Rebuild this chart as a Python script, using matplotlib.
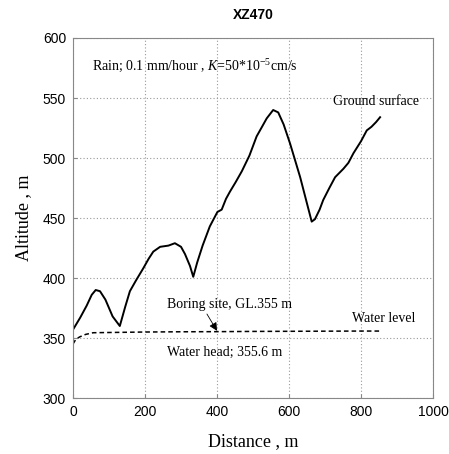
import matplotlib
matplotlib.use("Agg")
import matplotlib.pyplot as plt

# ground surface profile (distance m, altitude m)
dist = [0, 20, 38, 52, 63, 75, 90, 110, 130, 145, 158, 175, 195, 210, 223, 242, 265, 283,
        300, 311, 325, 334, 345, 360, 380, 401, 413, 425, 436, 452, 469, 490, 510, 525,
        538, 556, 570, 585, 603, 631, 650, 663, 672, 685, 695, 712, 728, 751, 765, 779,
        800, 816, 829, 842, 853]
ground = [357, 367, 377, 386, 390, 389, 382, 368, 360, 376, 389, 398, 408, 416, 422, 426, 427, 429,
          426, 420, 410, 401, 413, 427, 443, 455, 457, 466, 472, 480, 489, 502, 518, 526,
          533, 540, 538, 528, 512, 484, 462, 447, 449, 457, 465, 475, 484, 491, 496, 504,
          514, 523, 526, 530, 534]

# water level (dashed)
wl_dist = [0, 8, 19, 35, 56, 100, 200, 300, 400, 500, 600, 700, 800, 853]
wl_alt = [345, 349, 351, 353, 354.4, 354.6, 355.0, 355.2, 355.3, 355.5, 355.6, 355.7, 355.8, 355.8]

serif = "Liberation Serif"
sans = "Liberation Sans"
plt.rcParams["mathtext.fontset"] = "custom"
plt.rcParams["mathtext.rm"] = serif
plt.rcParams["mathtext.it"] = serif + ":italic"

fig = plt.figure(figsize=(4.49, 4.54), dpi=100)
ax = fig.add_axes([0.1626, 0.1233, 0.8018, 0.793])

ax.plot(dist, ground, color="black", linewidth=1.4)
ax.plot(wl_dist, wl_alt, color="black", linewidth=1.1, linestyle=(0, (3, 2)))

ax.set_xlim(0, 1000)
ax.set_ylim(300, 600)
ax.set_xticks([0, 200, 400, 600, 800, 1000])
ax.set_yticks([300, 350, 400, 450, 500, 550, 600])
ax.grid(True, color="#999999", linestyle=(0, (1, 2)), linewidth=0.8)
for s in ax.spines.values():
    s.set_color("#888888")
    s.set_linewidth(0.8)
ax.tick_params(direction="in", length=3, color="#888888", labelsize=10, pad=5)
for lab in ax.get_xticklabels() + ax.get_yticklabels():
    lab.set_fontfamily(sans)

ax.set_xlabel("Distance , m", fontfamily=serif, fontsize=13, labelpad=10)
ax.set_ylabel("Altitude , m", fontfamily=serif, fontsize=13, labelpad=8)
ax.set_title("XZ470", fontfamily=sans, fontweight="bold", fontsize=10, pad=14)

ax.text(52, 576, r"Rain; 0.1 mm/hour , $K$=50*10$^{\mathrm{-5}}$cm/s",
        fontfamily=serif, fontsize=10, va="center", ha="left")
ax.text(843, 547, "Ground surface", fontfamily=serif, fontsize=10, va="center", ha="center")
ax.text(863, 366, "Water level", fontfamily=serif, fontsize=10, va="center", ha="center")
ax.text(260, 338, "Water head; 355.6 m", fontfamily=serif, fontsize=10, va="center", ha="left")
ax.text(435, 378, "Boring site, GL.355 m", fontfamily=serif, fontsize=10, va="center", ha="center")
ax.annotate("", xy=(400, 356), xytext=(372, 370),
            arrowprops=dict(arrowstyle="-|>", color="black", lw=0.6,
                            shrinkA=0, shrinkB=0, mutation_scale=12))

fig.savefig("out.png", dpi=100)
